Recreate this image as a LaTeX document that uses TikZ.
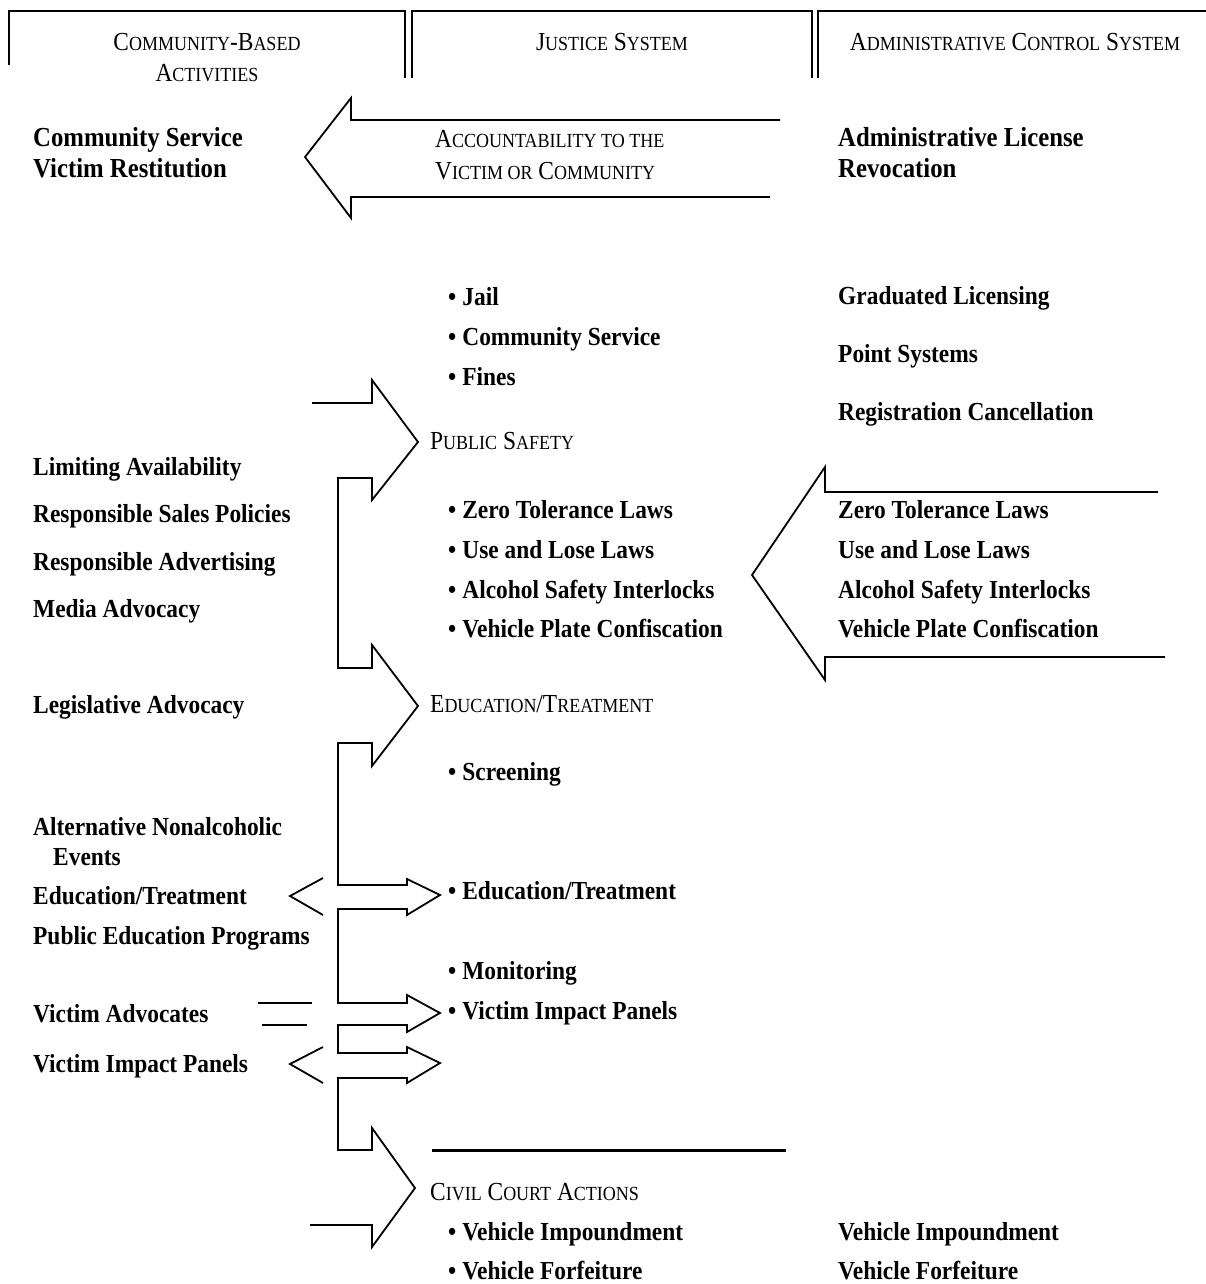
\documentclass[tikz,border=0pt]{standalone}
\usepackage{fontspec}
\setmainfont{Liberation Serif}
\newfontfamily\bodyfont{Liberation Serif Bold}[FakeStretch=0.9]
\newfontfamily\headfont{Liberation Serif}[FakeStretch=0.9]
\newcommand\SC[2]{{\fontsize{26}{30}\selectfont #1}{\fontsize{20}{24}\selectfont #2}}
\newcommand\bul{\textbullet\hspace{6pt}}
\tikzset{
  body/.style={anchor=base west, inner sep=0pt, font=\bodyfont\fontsize{26}{30}\selectfont},
  big/.style={anchor=base west, inner sep=0pt, font=\bodyfont\fontsize{27.5}{32}\selectfont},
  head/.style={anchor=base west, inner sep=0pt, font=\headfont\fontsize{26}{30}\selectfont},
  colhead/.style={anchor=base, inner sep=0pt, font=\headfont\fontsize{26}{30}\selectfont},
  outline/.style={draw, line width=1.8pt, line join=miter},
  boxline/.style={draw, line width=1.4pt},
}
\begin{document}
\begin{tikzpicture}[x=1pt, y=-1pt]
\useasboundingbox (0,0) rectangle (1206,1284);

% column header boxes
\draw[boxline] (9,65) -- (9,11) -- (405,11) -- (405,78);
\draw[boxline] (412,78) -- (412,11) -- (812,11) -- (812,78);
\draw[boxline] (818,78) -- (818,11) -- (1206,11);
\node[colhead] (h1) at (207,51) {\SC{C}{OMMUNITY}-\SC{B}{ASED}};
\node[colhead] (h1b) at (207,82) {\SC{A}{CTIVITIES}};
\node[colhead] (h2) at (612,51) {\SC{J}{USTICE} \SC{S}{YSTEM}};
\node[colhead] (h3) at (1015,51) {\SC{A}{DMINISTRATIVE} \SC{C}{ONTROL} \SC{S}{YSTEM}};

% accountability arrow (left pointing)
\draw[outline] (780,120) -- (351,120) -- (351,98) -- (305,157) -- (351,218) -- (351,197) -- (770,197);
\node[head] (acc1) at (435,148) {\SC{A}{CCOUNTABILITY TO THE}};
\node[head] (acc2) at (435,179) {\SC{V}{ICTIM OR} \SC{C}{OMMUNITY}};

% right side arrow (left pointing)
\draw[outline] (1158,492) -- (825,492) -- (825,467) -- (752,575) -- (825,680) -- (825,657) -- (1165,657);

% main flow
\draw[outline] (312,403) -- (372,403) -- (372,380) -- (418,442) -- (372,500) -- (372,478)
  -- (338,478) -- (338,668) -- (372,668) -- (372,645) -- (418,706) -- (372,766) -- (372,743)
  -- (338,743) -- (338,885) -- (407,885) -- (407,879) -- (440,895) -- (407,915) -- (407,909)
  -- (338,909) -- (338,1003) -- (407,1003) -- (407,995) -- (440,1013) -- (407,1032) -- (407,1025)
  -- (338,1025) -- (338,1053) -- (407,1053) -- (407,1047) -- (440,1063) -- (407,1083) -- (407,1078)
  -- (338,1078) -- (338,1150) -- (372,1150) -- (372,1128) -- (415,1188) -- (372,1247) -- (372,1225)
  -- (310,1225);
\draw[outline] (323,878) -- (290,896) -- (323,915);
\draw[outline] (323,1047) -- (290,1064) -- (323,1083);
\draw[outline] (258,1003) -- (312,1003);
\draw[outline] (262,1025) -- (307,1025);
\draw[line width=3pt] (432,1150) -- (786,1150);

% left column
\node[big] (l1) at (33,147) {Community Service};
\node[big] (l2) at (33,178) {Victim Restitution};
\node[body] (l3) at (33,475) {Limiting Availability};
\node[body] (l4) at (33,522) {Responsible Sales Policies};
\node[body] (l5) at (33,570) {Responsible Advertising};
\node[body] (l6) at (33,617) {Media Advocacy};
\node[body] (l7) at (33,713) {Legislative Advocacy};
\node[body] (l8) at (33,835) {Alternative Nonalcoholic};
\node[body] (l9) at (53,865) {Events};
\node[body] (l10) at (33,904) {Education/Treatment};
\node[body] (l11) at (33,944) {Public Education Programs};
\node[body] (l12) at (33,1022) {Victim Advocates};
\node[body] (l13) at (33,1072) {Victim Impact Panels};

% middle column
\node[body] (m1) at (448,305) {\bul Jail};
\node[body] (m2) at (448,345) {\bul Community Service};
\node[body] (m3) at (448,385) {\bul Fines};
\node[head] (ps) at (430,449) {\SC{P}{UBLIC} \SC{S}{AFETY}};
\node[body] (m4) at (448,518) {\bul Zero Tolerance Laws};
\node[body] (m5) at (448,558) {\bul Use and Lose Laws};
\node[body] (m6) at (448,598) {\bul Alcohol Safety Interlocks};
\node[body] (m7) at (448,637) {\bul Vehicle Plate Confiscation};
\node[head] (et) at (430,712) {\SC{E}{DUCATION}/\SC{T}{REATMENT}};
\node[body] (m8) at (448,780) {\bul Screening};
\node[body] (m9) at (448,899) {\bul Education/Treatment};
\node[body] (m10) at (448,979) {\bul Monitoring};
\node[body] (m11) at (448,1019) {\bul Victim Impact Panels};
\node[head] (cc) at (430,1200) {\SC{C}{IVIL} \SC{C}{OURT} \SC{A}{CTIONS}};
\node[body] (m12) at (448,1240) {\bul Vehicle Impoundment};
\node[body] (m13) at (448,1279) {\bul Vehicle Forfeiture};

% right column
\node[big] (r1) at (838,147) {Administrative License};
\node[big] (r2) at (838,178) {Revocation};
\node[body] (r3) at (838,304) {Graduated Licensing};
\node[body] (r4) at (838,362) {Point Systems};
\node[body] (r5) at (838,420) {Registration Cancellation};
\node[body] (r6) at (838,518) {Zero Tolerance Laws};
\node[body] (r7) at (838,558) {Use and Lose Laws};
\node[body] (r8) at (838,598) {Alcohol Safety Interlocks};
\node[body] (r9) at (838,637) {Vehicle Plate Confiscation};
\node[body] (r10) at (838,1240) {Vehicle Impoundment};
\node[body] (r11) at (838,1279) {Vehicle Forfeiture};
\end{tikzpicture}
\end{document}
